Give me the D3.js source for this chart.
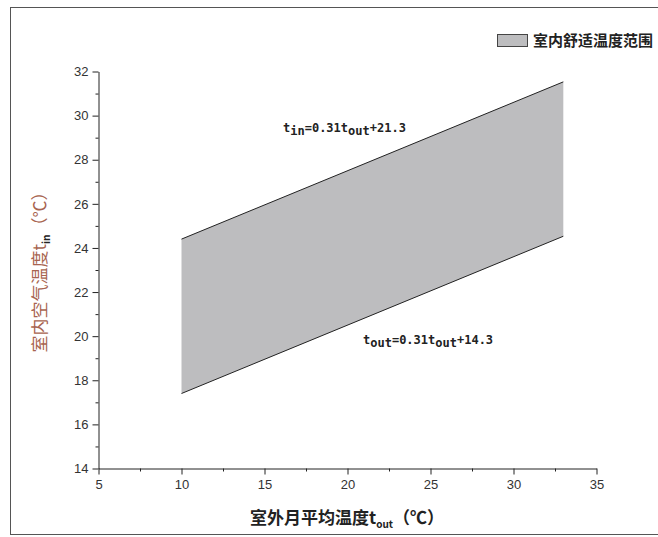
<!DOCTYPE html>
<html>
<head>
<meta charset="utf-8">
<script src="https://d3js.org/d3.v7.min.js"></script>
<style>
  body { margin: 0; background: #fff; }
  text { font-family: "Liberation Sans", Arial, sans-serif; }
  .cjk { font-family: "Noto Sans CJK SC", sans-serif; }
  .eq { font-family: "DejaVu Sans Mono", monospace; font-weight: bold; font-size: 12px; }
</style>
</head>
<body>
<svg width="658" height="537"></svg>
<script>
// outdoor monthly mean temperature (x) and comfort band limits
const bandX = [10, 33];
const bandUpper = [24.4, 31.53];
const bandLower = [17.4, 24.53];

const xTicks = [5, 10, 15, 20, 25, 30, 35];
const yTicks = [14, 16, 18, 20, 22, 24, 26, 28, 30, 32];

const svg = d3.select("svg");

// outer frame
svg.append("rect")
  .attr("x", 10.5).attr("y", 7.5)
  .attr("width", 660).attr("height", 527)
  .attr("fill", "none").attr("stroke", "#555");

const x = d3.scaleLinear().domain([5, 35]).range([98.5, 596.5]);
const y = d3.scaleLinear().domain([14, 32]).range([468.5, 71.5]);

const band = bandX.map((v, i) => ({x: v, lo: bandLower[i], hi: bandUpper[i]}));

svg.append("path")
  .datum(band)
  .attr("fill", "#bdbdbf")
  .attr("d", d3.area().x(d => x(d.x)).y0(d => y(d.lo)).y1(d => y(d.hi)));

const line = d3.line().x(d => x(d[0])).y(d => y(d[1]));
svg.append("path").datum(bandX.map((v, i) => [v, bandUpper[i]]))
  .attr("d", line).attr("fill", "none").attr("stroke", "#222").attr("stroke-width", 1);
svg.append("path").datum(bandX.map((v, i) => [v, bandLower[i]]))
  .attr("d", line).attr("fill", "none").attr("stroke", "#222").attr("stroke-width", 1);

// axes
const xAxis = svg.append("g").attr("transform", "translate(0,468.5)")
  .call(d3.axisBottom(x).tickValues(xTicks).tickSize(6).tickSizeOuter(0).tickPadding(5));
svg.append("g").attr("transform", "translate(0,468.5)")
  .call(d3.axisBottom(x).tickValues(d3.range(7.5, 35, 5)).tickSize(3).tickFormat(""))
  .select(".domain").remove();

const yAxis = svg.append("g").attr("transform", "translate(98.5,0)")
  .call(d3.axisLeft(y).tickValues(yTicks).tickSize(6).tickSizeOuter(0).tickPadding(4));
svg.append("g").attr("transform", "translate(98.5,0)")
  .call(d3.axisLeft(y).tickValues(d3.range(15, 32, 2)).tickSize(3).tickFormat(""))
  .select(".domain").remove();

svg.selectAll(".tick text").attr("font-size", 13).attr("fill", "#333")
  .attr("font-family", "Liberation Sans, Arial, sans-serif");
svg.selectAll(".domain, .tick line").attr("stroke", "#222");

// axis titles
const xt = svg.append("text").attr("class", "cjk")
  .attr("x", 347).attr("y", 524).attr("text-anchor", "middle")
  .attr("font-size", 17).attr("font-weight", "bold").attr("fill", "#222");
xt.append("tspan").text("室外月平均温度t");
xt.append("tspan").text("out").attr("font-size", 10).attr("dy", 4);
xt.append("tspan").text("（℃）").attr("dy", -4);

const yt = svg.append("text").attr("class", "cjk")
  .attr("transform", "translate(46,268) rotate(-90)")
  .attr("text-anchor", "middle")
  .attr("font-size", 17).attr("fill", "#a86450");
yt.append("tspan").text("室内空气温度t");
yt.append("tspan").text("in").attr("font-size", 10).attr("font-weight", "bold").attr("dy", 4).attr("fill", "#222");
yt.append("tspan").text("（℃）").attr("dy", -4);

// equations
function eq(px, py, sub1) {
  const t = svg.append("text").attr("class", "eq").attr("x", px).attr("y", py).attr("fill", "#222");
  return t;
}
const e1 = eq(283, 132);
e1.append("tspan").text("t");
e1.append("tspan").text("in").attr("dy", 3);
e1.append("tspan").text("=0.31t").attr("dy", -3);
e1.append("tspan").text("out").attr("dy", 3);
e1.append("tspan").text("+21.3").attr("dy", -3);

const e2 = eq(363, 344);
e2.append("tspan").text("t");
e2.append("tspan").text("out").attr("dy", 3);
e2.append("tspan").text("=0.31t").attr("dy", -3);
e2.append("tspan").text("out").attr("dy", 3);
e2.append("tspan").text("+14.3").attr("dy", -3);

// legend
svg.append("rect")
  .attr("x", 497.5).attr("y", 34.5).attr("width", 30).attr("height", 12)
  .attr("fill", "#bdbdbf").attr("stroke", "#444");
svg.append("text").attr("class", "cjk")
  .attr("x", 533).attr("y", 46)
  .attr("font-size", 15).attr("font-weight", "bold").attr("fill", "#222")
  .text("室内舒适温度范围");
</script>
</body>
</html>
